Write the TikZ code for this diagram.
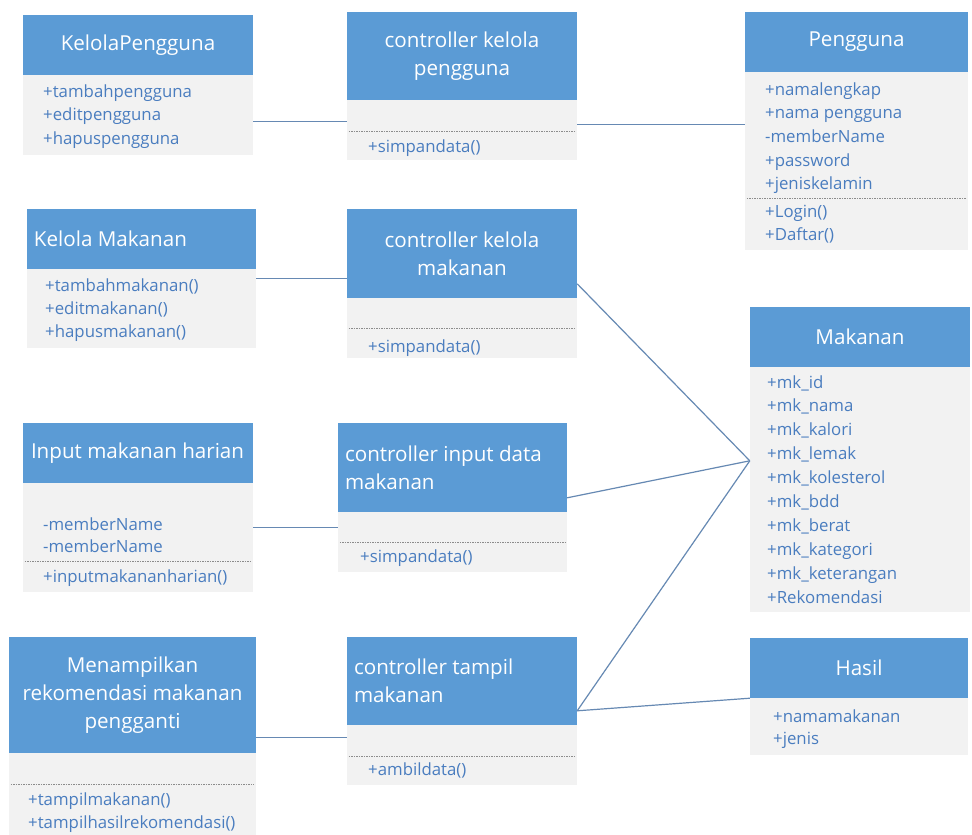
\documentclass[tikz,border=0pt]{standalone}
\usepackage{fontspec}
\setmainfont{Open Sans}
\usetikzlibrary{fit}

\definecolor{hdrblue}{HTML}{5B9BD5}
\definecolor{bodygray}{HTML}{F2F2F2}
\definecolor{itemblue}{HTML}{4A7DBF}
\definecolor{linkblue}{HTML}{6689B3}
\definecolor{sepgray}{HTML}{8C8C8C}

% list of members: prefix, x, first baseline, line step, items
\newcommand\classitems[5]{%
  \foreach \txt [count=\k] in {#5} {%
    \node[item, anchor=base west] (#1\k) at (#2, {#3+(\k-1)*#4}) {\txt};}}

\begin{document}
\begin{tikzpicture}[x=1pt, y=-1pt,
  hdrbox/.style={fill=hdrblue, draw=none, inner sep=0pt},
  bodybox/.style={fill=bodygray, draw=none, inner sep=0pt},
  title/.style={text=white, font=\fontsize{20.6}{28}\selectfont, inner sep=0pt, align=center},
  ltitle/.style={title, align=left, anchor=west},
  item/.style={text=itemblue, font=\fontsize{16.8}{20}\selectfont, inner sep=0pt},
  sep/.style={draw=sepgray, line width=0.7pt, dash pattern=on 1.5pt off 1pt},
  link/.style={draw=linkblue, line width=1.2pt}]

\fill[white] (0,0) rectangle (972,835);
\useasboundingbox (0,0) rectangle (972,835);

% KelolaPengguna
\node[hdrbox, fit={(23,15) (253,75)}] (kpH) {};
\node[bodybox, fit={(23,75) (253,155)}] (kpB) {};
\node[title] (kpT) at (kpH) {KelolaPengguna};
\classitems{kpI}{43}{97}{23.5}{+tambahpengguna,+editpengguna,+hapuspengguna}

% controller kelola pengguna
\node[hdrbox, fit={(347,12) (577,100)}] (ckpH) {};
\node[bodybox, fit={(347,100) (577,160)}] (ckpB) {};
\node[title] (ckpT) at (ckpH) {controller kelola\\pengguna};
\draw[sep] ([xshift=2pt,yshift=-32pt]ckpB.north west) -- ([xshift=-2pt,yshift=-32pt]ckpB.north east);
\classitems{ckpI}{368}{152}{23.5}{+simpandata()}

% Pengguna
\node[hdrbox, fit={(745,12) (968,72)}] (pgH) {};
\node[bodybox, fit={(745,72) (968,250)}] (pgB) {};
\node[title] (pgT) at (pgH) {Pengguna};
\classitems{pgI}{765}{95}{23.7}{+namalengkap,+nama pengguna,-memberName,+password,+jeniskelamin}
\draw[sep] ([xshift=2pt,yshift=-127pt]pgB.north west) -- ([xshift=-2pt,yshift=-127pt]pgB.north east);
\classitems{pgM}{765}{217}{23.5}{+Login(),+Daftar()}

% Kelola Makanan
\node[hdrbox, fit={(27,209) (256,269)}] (kmH) {};
\node[bodybox, fit={(27,269) (256,348)}] (kmB) {};
\node[ltitle] (kmT) at ([xshift=7pt]kmH.west) {Kelola Makanan};
\classitems{kmI}{45}{291}{23}{+tambahmakanan(),+editmakanan(),+hapusmakanan()}

% controller kelola makanan
\node[hdrbox, fit={(347,209) (577,298)}] (ckmH) {};
\node[bodybox, fit={(347,298) (577,358)}] (ckmB) {};
\node[title] (ckmT) at (ckmH) {controller kelola\\makanan};
\draw[sep] ([xshift=2pt,yshift=-31pt]ckmB.north west) -- ([xshift=-2pt,yshift=-31pt]ckmB.north east);
\classitems{ckmI}{368}{352}{23.5}{+simpandata()}

% Makanan
\node[hdrbox, fit={(750,307) (970,367)}] (mkH) {};
\node[bodybox, fit={(750,367) (970,612)}] (mkB) {};
\node[title] (mkT) at (mkH) {Makanan};
\classitems{mkI}{767}{388}{23.9}{+mk\_id,+mk\_nama,+mk\_kalori,+mk\_lemak,+mk\_kolesterol,+mk\_bdd,+mk\_berat,+mk\_kategori,+mk\_keterangan,+Rekomendasi}

% Input makanan harian
\node[hdrbox, fit={(23,423) (253,483)}] (imH) {};
\node[bodybox, fit={(23,483) (253,592)}] (imB) {};
\node[ltitle] (imT) at ([xshift=8pt]imH.west) {Input makanan harian};
\classitems{imI}{43}{530}{22}{-memberName,-memberName}
\draw[sep] ([xshift=2pt,yshift=-79pt]imB.north west) -- ([xshift=-2pt,yshift=-79pt]imB.north east);
\classitems{imM}{43}{582}{23.5}{+inputmakananharian()}

% controller input data makanan
\node[hdrbox, fit={(338,423) (567,512)}] (cidH) {};
\node[bodybox, fit={(338,512) (567,572)}] (cidB) {};
\node[ltitle] (cidT) at ([xshift=7pt]cidH.west) {controller input data\\makanan};
\draw[sep] ([xshift=2pt,yshift=-31pt]cidB.north west) -- ([xshift=-2pt,yshift=-31pt]cidB.north east);
\classitems{cidI}{360}{562}{23.5}{+simpandata()}

% Menampilkan rekomendasi makanan pengganti
\node[hdrbox, fit={(9,637) (256,753)}] (mrH) {};
\node[bodybox, fit={(9,753) (256,835)}] (mrB) {};
\node[title] (mrT) at (mrH) {Menampilkan\\rekomendasi makanan\\pengganti};
\draw[sep] ([xshift=2pt,yshift=-32pt]mrB.north west) -- ([xshift=-2pt,yshift=-32pt]mrB.north east);
\classitems{mrI}{28}{805}{23}{+tampilmakanan(),+tampilhasilrekomendasi()}

% controller tampil makanan
\node[hdrbox, fit={(347,637) (577,725)}] (ctmH) {};
\node[bodybox, fit={(347,725) (577,785)}] (ctmB) {};
\node[ltitle] (ctmT) at ([xshift=7pt]ctmH.west) {controller tampil\\makanan};
\draw[sep] ([xshift=2pt,yshift=-32pt]ctmB.north west) -- ([xshift=-2pt,yshift=-32pt]ctmB.north east);
\classitems{ctmI}{368}{775}{23.5}{+ambildata()}

% Hasil
\node[hdrbox, fit={(750,638) (968,698)}] (hsH) {};
\node[bodybox, fit={(750,698) (968,755)}] (hsB) {};
\node[title] (hsT) at (hsH) {Hasil};
\classitems{hsI}{773}{722}{22}{+namamakanan,+jenis}

% associations
\coordinate (hub) at ([yshift=-94pt]mkB.north west);
\draw[link] ([yshift=-46.5pt]kpB.north east) -- ([yshift=-21.5pt]ckpB.north west);
\draw[link] ([yshift=-24.5pt]ckpB.north east) -- ([yshift=-52.5pt]pgB.north west);
\draw[link] ([yshift=-10pt]kmB.north east) -- ([yshift=-70pt]ckmH.north west);
\draw[link] ([yshift=-75pt]ckmH.north east) -- (hub);
\draw[link] ([yshift=-45pt]imB.north east) -- ([yshift=-16pt]cidB.north west);
\draw[link] ([yshift=-75pt]cidH.north east) -- (hub);
\draw[link] ([yshift=-101pt]mrH.north east) -- ([yshift=-13pt]ctmB.north west);
\draw[link] ([yshift=-74pt]ctmH.north east) -- (hub);
\draw[link] ([yshift=-74pt]ctmH.north east) -- (hsH.south west);
\end{tikzpicture}
\end{document}
